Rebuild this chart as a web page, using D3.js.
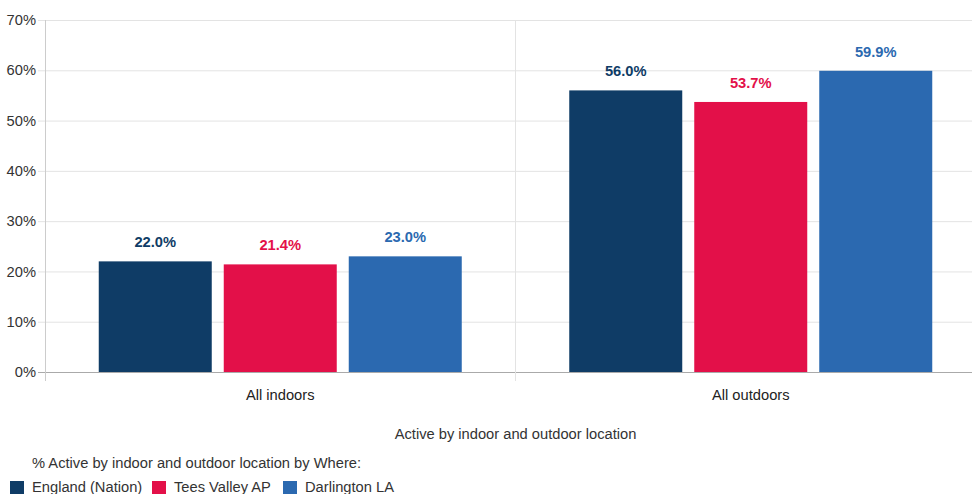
<!DOCTYPE html>
<html>
<head>
<meta charset="utf-8">
<script src="https://cdn.jsdelivr.net/npm/d3@7"></script>
<style>
  body { margin: 0; background: #fff; }
  svg { font-family: "Liberation Sans", Arial, sans-serif; display: block; }
</style>
</head>
<body>
<svg id="chart" width="972" height="494"></svg>
<script>
const categories = ['All indoors', 'All outdoors']
const seriesNames = ['England (Nation)', 'Tees Valley AP', 'Darlington LA']
const england = [22.0, 56.0]
const teesValley = [21.4, 53.7]
const darlington = [23.0, 59.9]
const yTicks = [0, 10, 20, 30, 40, 50, 60, 70]
const colors = ['#0f3c66', '#e31049', '#2b69b0']

const series = [england, teesValley, darlington]
const margin = { top: 20, left: 45, bottom: 122, right: -14 }
const width = 972
const height = 494
const fs = 14.7

const svg = d3.select('#chart')

const x0 = d3.scaleBand()
  .domain(categories)
  .range([margin.left, width - margin.right])

const x1 = d3.scaleBand()
  .domain(seriesNames)
  .range([0, x0.bandwidth()])
  .paddingInner(0.096)
  .paddingOuter(0.43)

const y = d3.scaleLinear()
  .domain([0, 70])
  .range([height - margin.bottom, margin.top])

// grid lines
svg.append('g')
  .selectAll('line')
  .data(yTicks)
  .enter()
  .append('line')
  .attr('x1', margin.left - 7)
  .attr('x2', width)
  .attr('y1', d => y(d) + 0.5)
  .attr('y2', d => y(d) + 0.5)
  .attr('stroke', d => d === 0 ? '#aaa' : '#e3e3e3')

// category separators
svg.append('g')
  .selectAll('line')
  .data(categories.slice(1))
  .enter()
  .append('line')
  .attr('x1', d => x0(d))
  .attr('x2', d => x0(d))
  .attr('y1', margin.top)
  .attr('y2', y(0) + 9)
  .attr('stroke', '#e3e3e3')

// y axis line
svg.append('line')
  .attr('x1', margin.left + 0.5)
  .attr('x2', margin.left + 0.5)
  .attr('y1', margin.top)
  .attr('y2', y(0) + 9)
  .attr('stroke', '#ccc')

// y tick labels
svg.append('g')
  .selectAll('text')
  .data(yTicks)
  .enter()
  .append('text')
  .attr('x', 36)
  .attr('y', d => y(d))
  .attr('dy', '0.35em')
  .attr('text-anchor', 'end')
  .attr('font-size', fs)
  .attr('fill', '#333')
  .text(d => d + '%')

// bars
const groups = svg.append('g')
  .selectAll('g')
  .data(categories)
  .enter()
  .append('g')
  .attr('transform', d => 'translate(' + x0(d) + ',0)')

groups.selectAll('rect')
  .data((c, ci) => seriesNames.map((s, si) => ({ s, si, v: series[si][ci] })))
  .enter()
  .append('rect')
  .attr('x', d => x1(d.s))
  .attr('width', x1.bandwidth())
  .attr('y', d => y(d.v))
  .attr('height', d => y(0) - y(d.v))
  .attr('fill', d => colors[d.si])

groups.selectAll('text')
  .data((c, ci) => seriesNames.map((s, si) => ({ s, si, v: series[si][ci] })))
  .enter()
  .append('text')
  .attr('x', d => x1(d.s) + x1.bandwidth() / 2)
  .attr('y', d => y(d.v) - 14)
  .attr('text-anchor', 'middle')
  .attr('font-size', fs)
  .attr('font-weight', 'bold')
  .attr('fill', d => colors[d.si])
  .text(d => d.v.toFixed(1) + '%')

// category labels
svg.append('g')
  .selectAll('text')
  .data(categories)
  .enter()
  .append('text')
  .attr('x', d => x0(d) + x0.bandwidth() / 2)
  .attr('y', y(0) + 23)
  .attr('dy', '0.35em')
  .attr('text-anchor', 'middle')
  .attr('font-size', fs)
  .attr('fill', '#222')
  .text(d => d)

// x axis title
svg.append('text')
  .attr('x', x0(categories[1]))
  .attr('y', 434)
  .attr('dy', '0.35em')
  .attr('text-anchor', 'middle')
  .attr('font-size', fs)
  .attr('fill', '#333')
  .text('Active by indoor and outdoor location')

// legend
svg.append('text')
  .attr('x', 32)
  .attr('y', 463)
  .attr('dy', '0.35em')
  .attr('font-size', fs)
  .attr('fill', '#333')
  .text('% Active by indoor and outdoor location by Where:')

const legendX = [10, 152, 283]
const legend = svg.append('g')
  .selectAll('g')
  .data(seriesNames)
  .enter()
  .append('g')
  .attr('transform', (d, i) => 'translate(' + legendX[i] + ',481)')

legend.append('rect')
  .attr('width', 14)
  .attr('height', 14)
  .attr('fill', (d, i) => colors[i])

legend.append('text')
  .attr('x', 22)
  .attr('y', 6)
  .attr('dy', '0.35em')
  .attr('font-size', fs)
  .attr('fill', '#333')
  .text(d => d)
</script>
</body>
</html>
